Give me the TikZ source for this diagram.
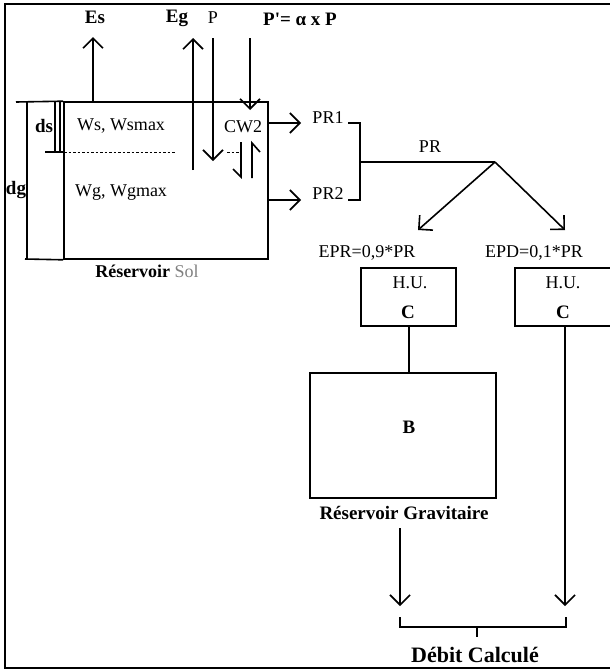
\documentclass[tikz,border=0pt]{standalone}
\usepackage{fontspec}
\setmainfont{Liberation Serif}
\usetikzlibrary{arrows.meta}
\begin{document}
\begin{tikzpicture}[x=1pt,y=-1pt,
  line width=1.6pt,
  every node/.style={font=\fontsize{18}{20}\selectfont, inner sep=0pt},
  arr/.style={-{Straight Barb[length=10pt,width=20pt]}},
  box/.style={draw},
  bold/.style={font=\fontsize{19}{21}\selectfont\bfseries},
  thin/.style={line width=0.7pt, dash pattern=on 2.5pt off 2pt}]
\useasboundingbox (0,0) rectangle (610,672);
% outer frame
\draw[line width=2.2pt] (614,4) -- (5,4) -- (5,668) -- (614,668);

% soil reservoir
\node[box, minimum width=204pt, minimum height=157pt] (soil) at (166,180.5) {};
\coordinate (topL) at (16,102);
\coordinate (botL) at (25,259);
\draw (topL) -- (soil.north west);
\draw (botL) -- (soil.south west);
\draw (27,102) -- (27,259);
\draw (55,102) -- (55,152);
\draw (60,102) -- (60,152);
\draw (45,152) -- (64,152);
\draw[thin] (64,152) -- (176,152);
\draw[thin] (227,152) -- (240,152);
\node[bold] (ds) at (44,126) {ds};
\node[bold] (dg) at (16,190) {dg};
\node (ws) at (121,126) {Ws, Wsmax};
\node (wg) at (121,193) {Wg, Wgmax};
\node (cw2) at (243,127) {CW2};
\node (rsol) at (147,271) {\bfseries Réservoir \mdseries\color{gray}Sol};

% top fluxes
\node[bold] (Es) at (95,17) {Es};
\node[bold] (Eg) at (177,18) {Eg};
\node (P) at (213,18) {P};
\node[bold] (Pp) at (300,19) {P\textquotesingle{}= α x P};
\coordinate (esT) at (93,37);
\draw[arr] (soil.north -| esT) -- (esT);
\coordinate (egB) at (193,170);
\coordinate (egT) at (193,38);
\draw[arr] (egB) -- (egT);
\coordinate (pT) at (213,38);
\coordinate (pB) at (213,161);
\draw[arr] (pT) -- (pB);
\coordinate (ppT) at (250,38);
\coordinate (ppB) at (250,110);
\draw[arr] (ppT) -- (ppB);
\coordinate (hdT) at (241,142);
\coordinate (hdB) at (241,177);
\draw (hdT) -- (hdB) -- (233,169);
\coordinate (huB) at (252,178);
\coordinate (huT) at (252,143);
\draw (huB) -- (huT) -- (260,152);

% PR1 / PR2
\node (pr1) at (328,118) {PR1};
\node (pr2) at (328,194) {PR2};
\coordinate (a1) at (301,123);
\coordinate (a2) at (301,200);
\draw[arr] (soil.east |- a1) -- (a1);
\draw[arr] (soil.east |- a2) -- (a2);
\draw (348,123) -- (360,123) -- (360,200) -- (348,200);
\coordinate (join) at (360,162);
\coordinate (split) at (495,162);
\draw (join) -- (split);
\node (pr) at (430,147) {PR};
\coordinate (t1) at (418,230);
\coordinate (t2) at (565,230);
\draw[arr] (split) -- (t1);
\draw[arr] (split) -- (t2);

% H.U. boxes
\node (epr) at (367,253) {EPR=0,9*PR};
\node (epd) at (534,253) {EPD=0,1*PR};
\node[box, minimum width=95pt, minimum height=58pt] (hu1) at (408.5,297) {};
\node[box, minimum width=96pt, minimum height=58pt] (hu2) at (563,297) {};
\node (hu1a) at (410,283) {H.U.};
\node[bold] (hu1c) at (408,312) {C};
\node (hu2a) at (563,283) {H.U.};
\node[bold] (hu2c) at (563,312) {C};

% gravitaire
\node[box, minimum width=186pt, minimum height=125pt] (B) at (403,435.5) {};
\node[bold] (Bl) at (409,427) {B};
\node[bold] (rg) at (404,513) {Réservoir Gravitaire};
\coordinate (c1) at (409,326);
\draw (c1) -- (c1 |- B.north);

% outputs
\coordinate (l1) at (400,528);
\coordinate (l2) at (400,606);
\draw[arr] (l1) -- (l2);
\coordinate (r1) at (565,326);
\coordinate (r2) at (565,606);
\draw[arr] (r1) -- (r2);
\draw (400,617) -- (400,627) -- (566,627) -- (566,617);
\coordinate (tk) at (477,627);
\coordinate (tkB) at (477,637);
\draw (tk) -- (tkB);
\node[font=\fontsize{22}{24}\selectfont\bfseries] (debit) at (475,655) {Débit Calculé};
\end{tikzpicture}
\end{document}
